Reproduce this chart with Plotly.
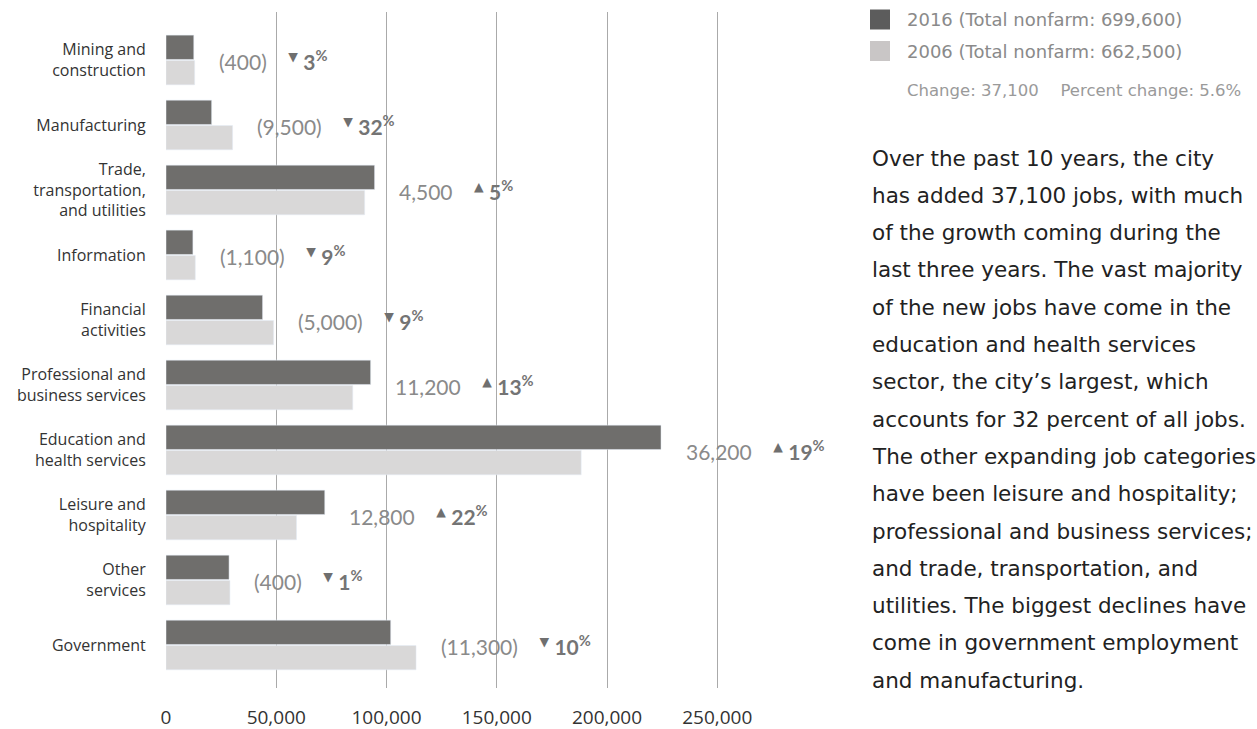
import plotly.graph_objects as go

categories = ["Mining and<br>construction", "Manufacturing", "Trade,<br>transportation,<br>and utilities",
              "Information", "Financial<br>activities", "Professional and<br>business services",
              "Education and<br>health services", "Leisure and<br>hospitality", "Other<br>services", "Government"]
jobs_2016 = [12600, 20700, 94600, 12200, 43800, 92800, 224500, 72000, 28600, 101900]
jobs_2006 = [13000, 30200, 90100, 13300, 48800, 84700, 188300, 59200, 29000, 113400]
change_labels = ["(400)", "(9,500)", "4,500", "(1,100)", "(5,000)", "11,200", "36,200", "12,800", "(400)", "(11,300)"]
pct_change = [3, 32, 5, 9, 9, 13, 19, 22, 1, 10]
direction = ["down", "down", "up", "down", "down", "up", "up", "up", "down", "down"]
x_ticks = [0, 50000, 100000, 150000, 200000, 250000]
x_tick_labels = ["0", "50,000", "100,000", "150,000", "200,000", "250,000"]
legend_labels = ["2016 (Total nonfarm: 699,600)", "2006 (Total nonfarm: 662,500)"]
summary = "Change: 37,100\u2003 Percent change: 5.6%"
paragraph = ["Over the past 10 years, the city",
             "has added 37,100 jobs, with much",
             "of the growth coming during the",
             "last three years. The vast majority",
             "of the new jobs have come in the",
             "education and health services",
             "sector, the city\u2019s largest, which",
             "accounts for 32 percent of all jobs.",
             "The other expanding job categories",
             "have been leisure and hospitality;",
             "professional and business services;",
             "and trade, transportation, and",
             "utilities. The biggest declines have",
             "come in government employment",
             "and manufacturing."]

W, H = 1257, 729
L, R, T, B = 166, 430, 12, 41
PW, PH = W - L - R, H - T - B
DARK, LIGHT = "#6f6e6c", "#d9d8d8"


def px(x):
    return (x - L) / PW


def py(y):
    return (H - B - y) / PH


idx = list(range(len(categories)))
fig = go.Figure()
fig.add_trace(go.Bar(y=idx, x=jobs_2016, orientation="h", marker_color=DARK, name=legend_labels[0]))
fig.add_trace(go.Bar(y=idx, x=jobs_2006, orientation="h", marker_color=LIGHT, name=legend_labels[1]))

annotations = []
for i in idx:
    arrow = "\u25B2" if direction[i] == "up" else "\u25BC"
    txt = (f"<span style='color:#8a8a8a'>{change_labels[i]}</span>"
           f"    <sup><span style='font-family:DejaVu Sans;font-size:12.5px;color:#6f6f6f'>{arrow}</span></sup>"
           f" <span style='color:#747474;font-weight:bold'>{pct_change[i]}<sup>%</sup></span>")
    annotations.append(dict(x=max(jobs_2016[i], jobs_2006[i]) + 10200, y=i, xref="x", yref="y",
                            text=txt, showarrow=False, xanchor="left", yanchor="middle",
                            font=dict(family="Lato", size=21, color="#8a8a8a")))

shapes = []
for k, (col, yc) in enumerate([("#5c5c5c", 19.5), ("#c9c6c6", 51)]):
    shapes.append(dict(type="rect", xref="paper", yref="paper", x0=px(870), x1=px(890),
                       y0=py(yc - 10), y1=py(yc + 10), fillcolor=col, line_width=0))
    annotations.append(dict(x=px(905), y=py(yc), xref="paper", yref="paper", text=legend_labels[k],
                            showarrow=False, xanchor="left", yanchor="middle",
                            font=dict(family="DejaVu Sans", size=18, color="#8a8a8a")))
annotations.append(dict(x=px(905), y=py(91), xref="paper", yref="paper", text=summary,
                        showarrow=False, xanchor="left", yanchor="middle",
                        font=dict(family="DejaVu Sans", size=16.5, color="#9a9a9a")))
for j, line in enumerate(paragraph):
    annotations.append(dict(x=px(870), y=py(158 + j * 37.3), xref="paper", yref="paper", text=line,
                            showarrow=False, xanchor="left", yanchor="middle",
                            font=dict(family="DejaVu Sans", size=21.5, color="#222222")))

fig.update_layout(
    width=W, height=H, margin=dict(l=L, r=R, t=T, b=B, autoexpand=False),
    paper_bgcolor="white", plot_bgcolor="white",
    barmode="group", bargap=0.22, bargroupgap=0.04,
    showlegend=False,
    annotations=annotations, shapes=shapes,
    font=dict(family="Open Sans", color="#333333"),
)
fig.update_xaxes(range=[0, PW / 2.205 * 1000], tickvals=x_ticks, ticktext=x_tick_labels,
                 showgrid=True, gridcolor="#aaaaaa", gridwidth=1, zeroline=False, showline=False,
                 ticks="outside", ticklen=12, tickcolor="rgba(0,0,0,0)", automargin=False,
                 tickfont=dict(family="Open Sans", size=19, color="#333333"))
fig.update_yaxes(range=[9.662, -0.738], tickvals=idx, ticktext=categories, showgrid=False,
                 zeroline=False, showline=False, ticks="outside", ticklen=16, automargin=False,
                 tickcolor="rgba(0,0,0,0)",
                 tickfont=dict(family="Open Sans", size=16, color="#333333"))

fig.write_html("out.html", config={"displayModeBar": False},
               post_script="document.body.style.margin='0px';document.body.style.overflow='hidden';")
